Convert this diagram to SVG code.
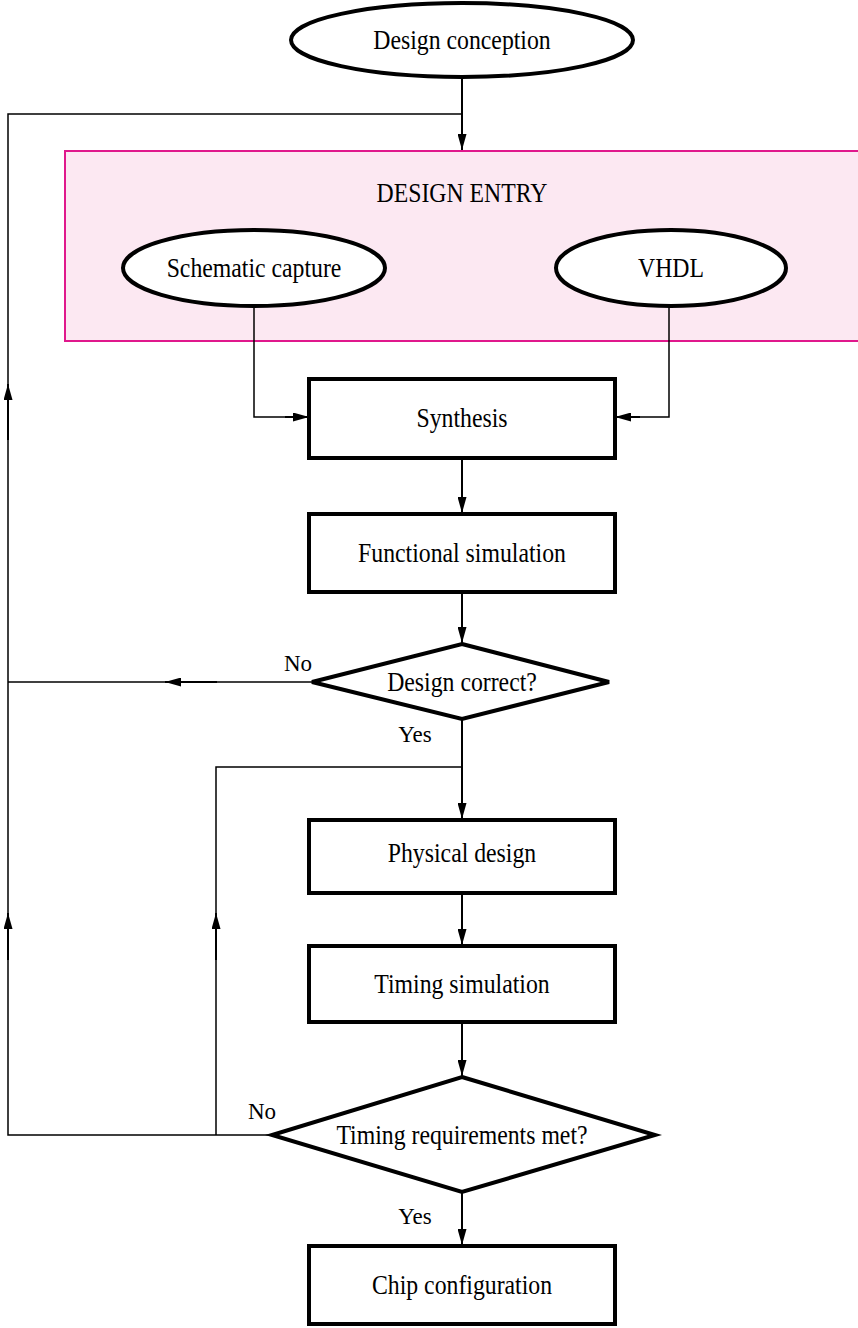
<svg xmlns="http://www.w3.org/2000/svg" width="858" height="1328" viewBox="0 0 858 1328">
<defs>
<marker id="ah" viewBox="0 0 16 9" refX="16" refY="4.5" markerWidth="16" markerHeight="9" markerUnits="userSpaceOnUse" orient="auto">
<path d="M0,0 L16,4.5 L0,9 Z" fill="#000"/>
</marker>
<style>
.n{fill:#fff;stroke:#000;stroke-width:4}
.t{font-family:"Liberation Serif",serif;font-size:27px;fill:#000;text-anchor:middle;dominant-baseline:central}
.l{font-family:"Liberation Serif",serif;font-size:23px;fill:#000;text-anchor:middle;dominant-baseline:central}
.c{fill:none;stroke:#000;stroke-width:1.5}
.a{fill:none;stroke:#000;stroke-width:2;marker-end:url(#ah)}
</style>
</defs>
<rect width="858" height="1328" fill="#fff"/>
<g id="design-entry">
<rect x="65" y="151" width="800" height="190" fill="#fce8f2" stroke="#e0188c" stroke-width="2"/>
<text class="t" transform="translate(462,193) scale(0.88,1)">DESIGN ENTRY</text>
</g>
<g id="connectors">
<path class="a" d="M462,78 V150"/>
<path class="c" d="M462,114 H8 V1135 H272"/>
<path class="a" d="M8,440 V384"/>
<path class="a" d="M8,960 V913"/>
<path class="c" d="M254,306 V417 H309"/>
<path class="a" d="M285,417 H309"/>
<path class="c" d="M669,306 V417 H615"/>
<path class="a" d="M640,417 H615"/>
<path class="a" d="M462,458 V513"/>
<path class="a" d="M462,592 V643"/>
<path class="c" d="M312,682 H8"/>
<path class="a" d="M217,682 H165"/>
<path class="a" d="M462,719 V819"/>
<path class="c" d="M462,767 H216 V1135"/>
<path class="a" d="M216,960 V913"/>
<path class="a" d="M462,893 V945"/>
<path class="a" d="M462,1022 V1076"/>
<path class="a" d="M462,1192 V1245"/>
<text class="l" x="298" y="663">No</text>
<text class="l" x="415" y="734">Yes</text>
<text class="l" x="262" y="1111">No</text>
<text class="l" x="415" y="1216">Yes</text>
</g>
<g id="design-conception">
<ellipse class="n" cx="462" cy="40" rx="171" ry="37"/>
<text class="t" transform="translate(462,40) scale(0.88,1)">Design conception</text>
</g>
<g id="schematic-capture">
<ellipse class="n" cx="254" cy="268" rx="131" ry="38"/>
<text class="t" transform="translate(254,268) scale(0.88,1)">Schematic capture</text>
</g>
<g id="vhdl">
<ellipse class="n" cx="671" cy="268" rx="115" ry="38"/>
<text class="t" transform="translate(671,268) scale(0.88,1)">VHDL</text>
</g>
<g id="synthesis">
<rect class="n" x="309" y="379" width="306" height="79"/>
<text class="t" transform="translate(462,418) scale(0.88,1)">Synthesis</text>
</g>
<g id="functional-simulation">
<rect class="n" x="309" y="514" width="306" height="78"/>
<text class="t" transform="translate(462,553) scale(0.88,1)">Functional simulation</text>
</g>
<g id="design-correct">
<polygon class="n" points="462,644 609,682 462,719 312,682"/>
<text class="t" transform="translate(462,682) scale(0.88,1)">Design correct?</text>
</g>
<g id="physical-design">
<rect class="n" x="309" y="820" width="306" height="73"/>
<text class="t" transform="translate(462,853) scale(0.88,1)">Physical design</text>
</g>
<g id="timing-simulation">
<rect class="n" x="309" y="946" width="306" height="76"/>
<text class="t" transform="translate(462,984) scale(0.88,1)">Timing simulation</text>
</g>
<g id="timing-met">
<polygon class="n" points="462,1077 655,1135 462,1192 272,1135"/>
<text class="t" transform="translate(462,1135) scale(0.88,1)">Timing requirements met?</text>
</g>
<g id="chip-configuration">
<rect class="n" x="309" y="1246" width="306" height="78"/>
<text class="t" transform="translate(462,1285) scale(0.88,1)">Chip configuration</text>
</g>
</svg>
